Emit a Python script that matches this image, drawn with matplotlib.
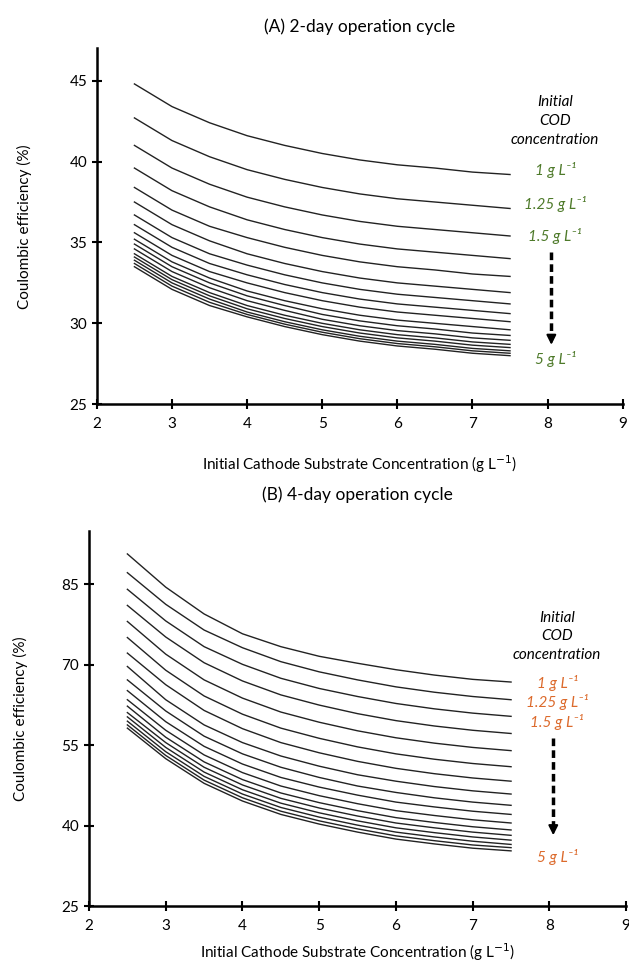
import numpy as np
import matplotlib.pyplot as plt

plt.rcParams['font.family'] = ['Lato', 'DejaVu Sans']

x_conc = [2.5, 3.0, 3.5, 4.0, 4.5, 5.0, 5.5, 6.0, 6.5, 7.0, 7.5]
cod_labels = ['1 g L⁻¹', '1.25 g L⁻¹', '1.5 g L⁻¹', '5 g L⁻¹']

# (A) 2-day cycle, one row per initial COD (1 ... 5 g/L, step 0.25)
ce_2day = [
    [44.8, 43.4, 42.4, 41.6, 41.0, 40.5, 40.1, 39.8, 39.6, 39.35, 39.2],
    [42.7, 41.3, 40.3, 39.5, 38.9, 38.4, 38.0, 37.7, 37.5, 37.3, 37.1],
    [41.0, 39.6, 38.6, 37.8, 37.2, 36.7, 36.3, 36.0, 35.8, 35.6, 35.4],
    [39.6, 38.2, 37.2, 36.4, 35.8, 35.3, 34.9, 34.6, 34.4, 34.2, 34.0],
    [38.4, 37.0, 36.0, 35.3, 34.7, 34.2, 33.8, 33.5, 33.3, 33.05, 32.9],
    [37.5, 36.1, 35.1, 34.3, 33.7, 33.2, 32.8, 32.5, 32.3, 32.1, 31.9],
    [36.7, 35.3, 34.3, 33.6, 33.0, 32.5, 32.1, 31.8, 31.6, 31.4, 31.2],
    [36.1, 34.7, 33.7, 33.0, 32.4, 31.9, 31.5, 31.2, 31.0, 30.8, 30.6],
    [35.6, 34.2, 33.2, 32.5, 31.9, 31.4, 31.0, 30.7, 30.5, 30.3, 30.1],
    [35.2, 33.8, 32.8, 32.0, 31.4, 30.9, 30.5, 30.2, 30.0, 29.8, 29.6],
    [34.9, 33.5, 32.5, 31.7, 31.1, 30.55, 30.15, 29.85, 29.65, 29.4, 29.25],
    [34.6, 33.2, 32.2, 31.4, 30.8, 30.25, 29.85, 29.55, 29.35, 29.1, 28.95],
    [34.3, 32.9, 31.9, 31.1, 30.5, 30.0, 29.6, 29.3, 29.1, 28.85, 28.7],
    [34.1, 32.7, 31.7, 30.9, 30.3, 29.8, 29.4, 29.1, 28.9, 28.65, 28.5],
    [33.9, 32.5, 31.5, 30.7, 30.1, 29.6, 29.2, 28.9, 28.7, 28.45, 28.3],
    [33.7, 32.3, 31.3, 30.55, 29.95, 29.45, 29.05, 28.75, 28.55, 28.3, 28.15],
    [33.5, 32.1, 31.1, 30.4, 29.8, 29.3, 28.9, 28.6, 28.4, 28.15, 28.0],
]

# (B) 4-day cycle
ce_4day = [
    [90.7, 84.5, 79.5, 75.8, 73.4, 71.6, 70.3, 69.1, 68.1, 67.3, 66.8],
    [87.2, 81.3, 76.5, 73.2, 70.6, 68.7, 67.2, 65.9, 64.9, 64.1, 63.5],
    [84.1, 78.2, 73.4, 70.1, 67.5, 65.6, 64.1, 62.8, 61.8, 61.0, 60.4],
    [81.1, 75.2, 70.4, 67.0, 64.4, 62.5, 60.9, 59.6, 58.6, 57.8, 57.2],
    [78.1, 72.0, 67.2, 63.8, 61.2, 59.3, 57.7, 56.4, 55.4, 54.6, 54.0],
    [75.1, 69.0, 64.2, 60.8, 58.2, 56.3, 54.7, 53.4, 52.4, 51.6, 51.0],
    [72.2, 66.3, 61.5, 58.1, 55.5, 53.6, 52.0, 50.7, 49.7, 48.9, 48.3],
    [69.7, 63.5, 58.8, 55.5, 53.0, 51.1, 49.5, 48.3, 47.3, 46.5, 45.9],
    [67.2, 61.4, 56.7, 53.4, 50.9, 49.0, 47.4, 46.2, 45.2, 44.4, 43.8],
    [65.2, 59.4, 54.8, 51.5, 49.0, 47.2, 45.7, 44.4, 43.5, 42.7, 42.1],
    [63.5, 57.8, 53.2, 49.9, 47.4, 45.6, 44.1, 42.8, 41.9, 41.1, 40.5],
    [62.3, 56.5, 51.9, 48.6, 46.1, 44.3, 42.8, 41.5, 40.6, 39.8, 39.2],
    [61.1, 55.5, 50.9, 47.6, 45.1, 43.3, 41.8, 40.5, 39.6, 38.8, 38.2],
    [60.3, 54.6, 50.0, 46.7, 44.2, 42.4, 40.9, 39.6, 38.7, 37.9, 37.3],
    [59.5, 53.8, 49.2, 45.9, 43.4, 41.6, 40.1, 38.8, 37.9, 37.1, 36.5],
    [58.8, 53.1, 48.5, 45.2, 42.7, 40.9, 39.4, 38.1, 37.2, 36.4, 35.9],
    [58.2, 52.5, 47.9, 44.6, 42.1, 40.3, 38.8, 37.5, 36.6, 35.8, 35.3],
]


def panel(ax, data, ylim, yticks, title, color, txt_y, arrow_y,
          tpad, ypad, xpad):
    for row in data:
        ax.plot(x_conc, row, color='#222222', lw=1.0)
    ax.set_xlim(2, 9)
    ax.set_ylim(*ylim)
    ax.set_xticks(range(2, 10))
    ax.set_yticks(yticks)
    for s in ['top', 'right']:
        ax.spines[s].set_visible(False)
    for s in ['left', 'bottom']:
        ax.spines[s].set_linewidth(1.8)
    ax.tick_params(direction='inout', length=7, width=1.5, labelsize=11)
    ax.tick_params(axis='x', pad=6)
    ax.set_title(title, fontsize=12.5, pad=tpad)
    ax.set_ylabel('Coulombic efficiency (%)', fontsize=11, labelpad=ypad)
    ax.set_xlabel('Initial Cathode Substrate Concentration (g L$^{-1}$)',
                  fontsize=11, labelpad=xpad)

    ax.text(8.1, txt_y[0], 'Initial\nCOD\nconcentration', ha='center',
            va='center', style='italic', fontsize=11, linespacing=1.45)
    for lab, yy in zip(cod_labels, txt_y[1:]):
        ax.text(8.1, yy, lab, ha='center', va='center', style='italic',
                fontsize=11, color=color)
    ax.plot([8.05, 8.05], [arrow_y[0], arrow_y[1] + 0.02 * (ylim[1] - ylim[0])],
            color='black', lw=2.5, ls=(0, (2.2, 1.2)))
    ax.annotate('', xy=(8.05, arrow_y[1]),
                xytext=(8.05, arrow_y[1] + 0.03 * (ylim[1] - ylim[0])),
                arrowprops=dict(arrowstyle='-|>', color='black', lw=1.5,
                                mutation_scale=14))


fig = plt.figure(figsize=(6.29, 9.67), dpi=100)
ax1 = fig.add_axes([0.154, 0.582, 0.836, 0.368])
ax2 = fig.add_axes([0.1415, 0.063, 0.854, 0.388])

panel(ax1, ce_2day, (25, 47), [25, 30, 35, 40, 45], '(A) 2-day operation cycle',
      '#4e7a2a', [42.5, 39.5, 37.4, 35.4, 27.8], (34.4, 28.5),
      tpad=12, ypad=27, xpad=16)
panel(ax2, ce_4day, (25, 95), [25, 40, 55, 70, 85], '(B) 4-day operation cycle',
      '#dc6a2c', [75.3, 66.7, 63.1, 59.4, 34.2], (56.4, 37.7),
      tpad=22, ypad=24, xpad=6)

fig.savefig('out.png', dpi=100)
